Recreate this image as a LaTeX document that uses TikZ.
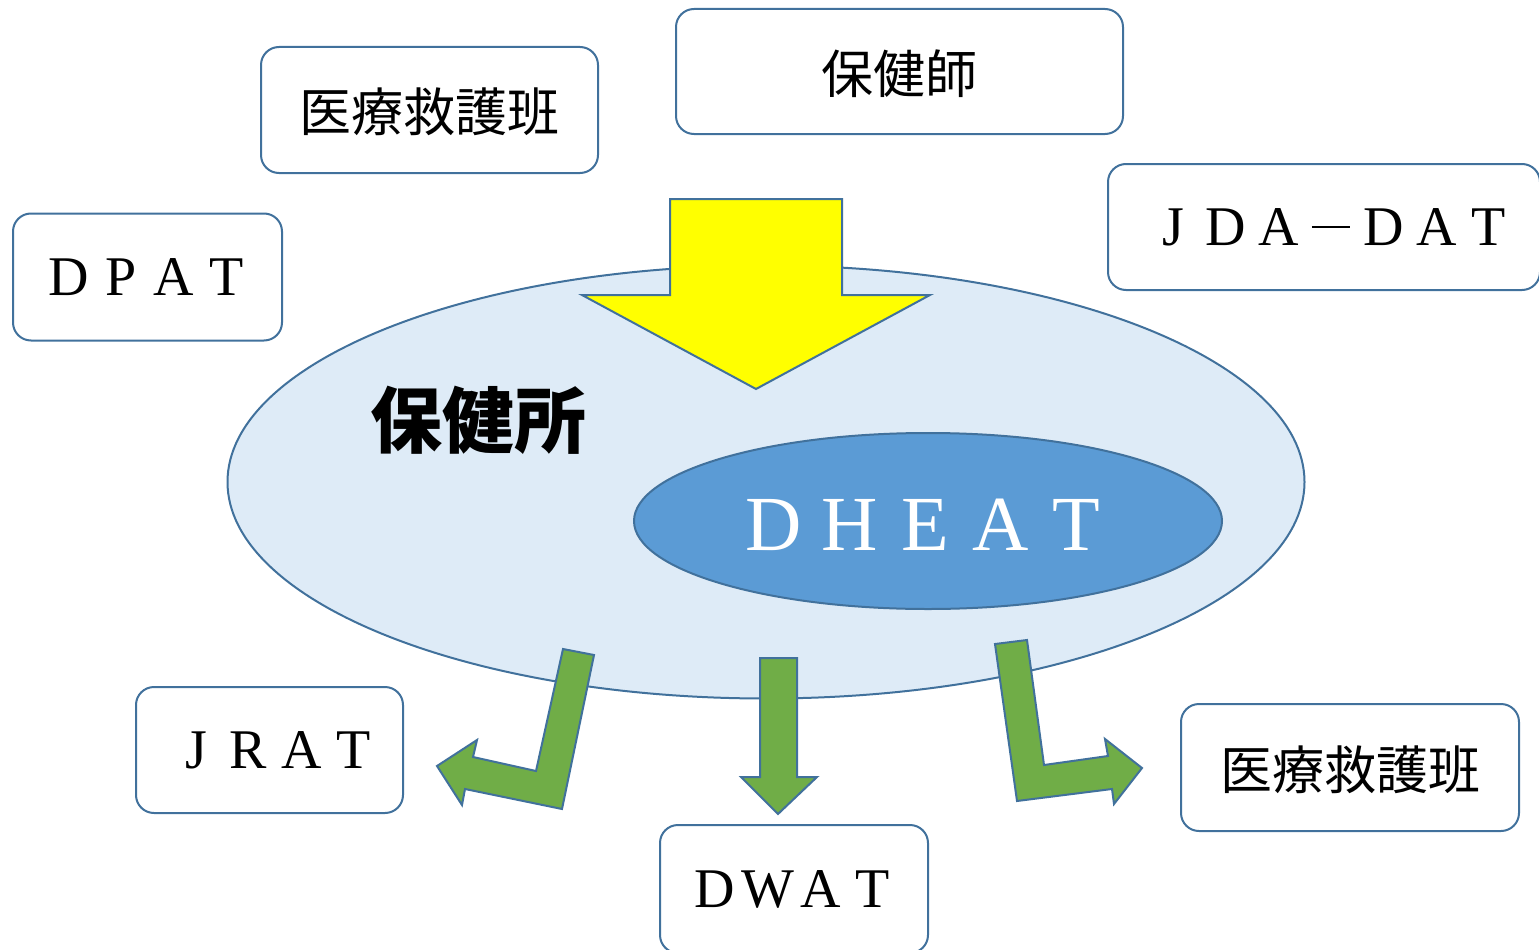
\documentclass[tikz,border=0pt]{standalone}
\usepackage{fontspec}
\setmainfont{Liberation Serif}
\newfontfamily\cjk{Noto Sans CJK JP}
\usetikzlibrary{shapes.geometric}
\definecolor{edge}{RGB}{65,113,156}
\definecolor{outerfill}{RGB}{222,235,247}
\definecolor{innerfill}{RGB}{91,155,213}
\definecolor{grn}{RGB}{112,173,71}
\definecolor{ylw}{RGB}{255,255,0}
\newcommand\fw[2][0.94]{\makebox[#1em]{#2}}
\tikzset{
  tagbox/.style={draw=edge, line width=2pt, rounded corners=18pt, fill=white,
    inner sep=0pt, text depth=0pt},
  latin/.style={font=\fontsize{56}{60}\selectfont},
  kanji/.style={font=\cjk\fontsize{52}{56}\selectfont},
  blockarrow/.style={draw=edge, line width=2pt, line join=miter},
}
\begin{document}
\begin{tikzpicture}[x=1pt,y=-1pt]
\useasboundingbox (0,0) rectangle (1539,950);
% ellipses
\node[ellipse, draw=edge, line width=2pt, fill=outerfill, inner sep=0pt,
  minimum width=1077pt, minimum height=433pt] (hc) at (766,482) {};
\node[ellipse, draw=edge, line width=2pt, fill=innerfill, inner sep=0pt,
  minimum width=588pt, minimum height=176pt] (dh) at (928,521) {};
\node[text=white, font=\fontsize{78}{80}\selectfont, text depth=0pt] (dhtxt) at (925,525)
  {\fw[0.97]{D}\fw[0.97]{H}\fw[0.97]{E}\fw[0.97]{A}\fw[0.97]{T}};
\node[font=\cjk\bfseries\fontsize{72}{76}\selectfont] (hct) at (478,420) {保健所};
% yellow arrow
\coordinate (ya) at (756,389);
\draw[blockarrow, fill=ylw] (670,199) -- (842,199) -- (842,295) -- (930,295)
  -- (ya) -- (582,295) -- (670,295) -- cycle;
% green arrows
\coordinate (ga1) at (437,766);
\draw[blockarrow, fill=grn] (563,649) -- (594,655) -- (562,809) -- (465,789)
  -- (462,805) -- (ga1) -- (477,740) -- (473,757) -- (536,771) -- cycle;
\coordinate (ga2) at (778,814);
\draw[blockarrow, fill=grn] (760,658) -- (797,658) -- (797,777) -- (817,777)
  -- (ga2) -- (741,777) -- (760,777) -- cycle;
\coordinate (ga3) at (1142,768);
\draw[blockarrow, fill=grn] (995,644) -- (1027,640) -- (1044,765) -- (1108,756)
  -- (1105,739) -- (ga3) -- (1114,804) -- (1112,789) -- (1017,801) -- cycle;
% boxes
\node[tagbox, kanji, minimum width=337pt, minimum height=126pt] (iryo1) at (429.5,110) {医療救護班};
\node[tagbox, kanji, minimum width=447pt, minimum height=125pt] (hokenshi) at (899.5,71.5) {保健師};
\node[tagbox, latin, minimum width=432pt, minimum height=126pt] (jda) at (1324,227)
  {\hspace*{14pt}\fw{J}\fw{D}\fw{A}\fw{\rule[0.31em]{0.68em}{0.03em}}\fw{D}\fw{A}\fw{T}};
\node[tagbox, latin, minimum width=269pt, minimum height=127pt] (dpat) at (147.5,277)
  {\fw{D}\fw{P}\fw{A}\fw{T}};
\node[tagbox, latin, minimum width=267pt, minimum height=126pt] (jrat) at (269.5,750)
  {\hspace*{11pt}\fw{J}\fw{R}\fw{A}\fw{T}};
\node[tagbox, latin, minimum width=268pt, minimum height=128pt] (dwat) at (794,889)
  {\fw{D}\fw{W}\fw{A}\fw{T}};
\node[tagbox, kanji, minimum width=338pt, minimum height=127pt] (iryo2) at (1350,767.5) {医療救護班};
\end{tikzpicture}
\end{document}
